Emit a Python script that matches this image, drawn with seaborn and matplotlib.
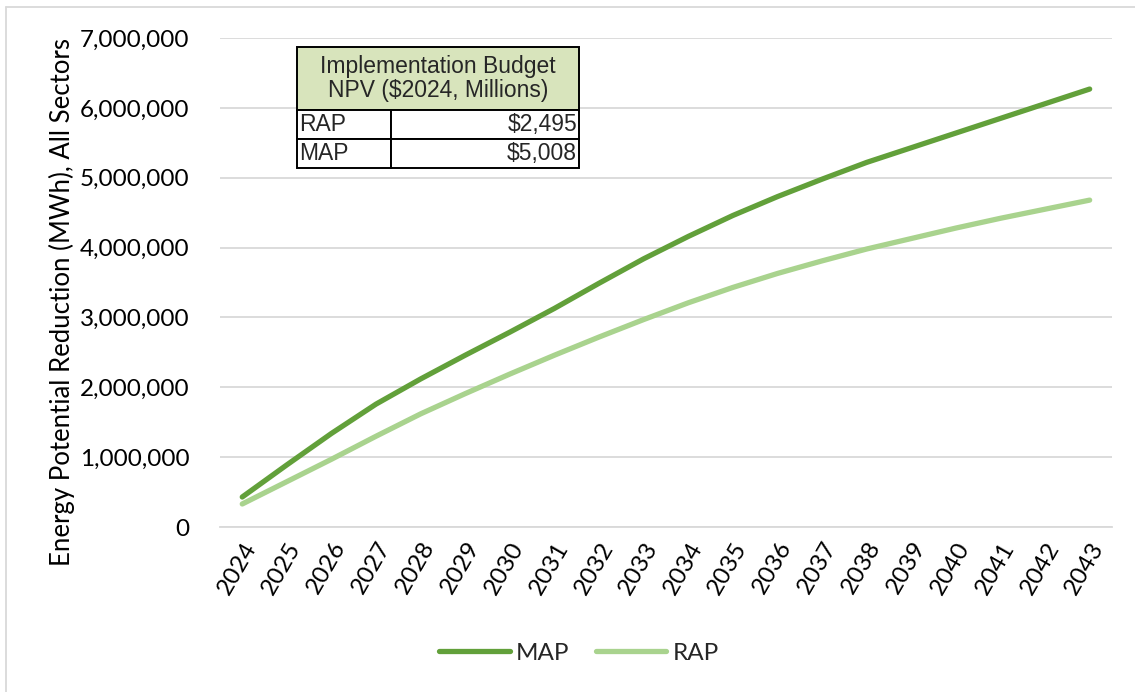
import matplotlib
matplotlib.use("Agg")
import matplotlib.pyplot as plt
from matplotlib.lines import Line2D
from matplotlib.ticker import FuncFormatter, FixedLocator
import numpy as np
import pandas as pd
import seaborn as sns

# Cumulative energy potential reduction (MWh), all sectors
years = [str(y) for y in range(2024, 2044)]
map_mwh = [430000, 890000, 1340000, 1760000, 2120000, 2460000, 2790000, 3130000,
           3490000, 3840000, 4160000, 4460000, 4730000, 4980000, 5220000, 5430000,
           5640000, 5850000, 6060000, 6270000]
rap_mwh = [330000, 650000, 970000, 1300000, 1620000, 1910000, 2190000, 2460000,
           2720000, 2970000, 3210000, 3430000, 3630000, 3810000, 3980000, 4130000,
           4280000, 4420000, 4550000, 4680000]

series_names = ["MAP", "RAP"]
series_colors = {"MAP": "#62a03a", "RAP": "#a9d38e"}

# Implementation budget table
budget_header = "Implementation Budget\nNPV ($2024, Millions)"
budget_labels = ["RAP", "MAP"]
budget_values = ["$2,495", "$5,008"]

df = pd.DataFrame({"Year": years * 2,
                   "Scenario": ["MAP"] * len(years) + ["RAP"] * len(years),
                   "MWh": map_mwh + rap_mwh})
df["x"] = df["Year"].map({y: i for i, y in enumerate(years)})

sns.set_theme(style="white")
plt.rcParams["font.family"] = ["Lato", "DejaVu Sans"]

fig = plt.figure(figsize=(11.35, 6.92), dpi=100)
ax = fig.add_axes([0.1938, 0.2384, 0.7859, 0.7066])

sns.lineplot(data=df, x="x", y="MWh", hue="Scenario", hue_order=series_names,
             palette=series_colors, linewidth=3.8, ax=ax, legend=False,
             solid_capstyle="round")

ax.set_xlim(-0.5, len(years) - 0.5)
ax.set_ylim(0, 7000000)
ax.set_yticks(np.arange(0, 7000001, 1000000))
ax.yaxis.set_major_formatter(FuncFormatter(lambda v, p: f"{int(v):,}"))
ax.grid(axis="y", color="#d9d9d9", linewidth=1.3)
ax.grid(axis="x", visible=False)
ax.set_axisbelow(True)

for s in ["top", "right", "left"]:
    ax.spines[s].set_visible(False)
ax.spines["bottom"].set_color("#d9d9d9")
ax.spines["bottom"].set_linewidth(1.3)

# category labels at centres, tick marks at category boundaries
ax.set_xticks(range(len(years)))
ax.set_xticklabels(years, rotation=60, ha="right", va="top",
                   rotation_mode="anchor", fontsize=17.5, color="#000000")
ax.tick_params(axis="x", length=0, pad=8)
ax.xaxis.set_minor_locator(FixedLocator(np.arange(-0.5, len(years), 1.0)))
ax.tick_params(axis="x", which="minor", length=7, width=1.3, color="#d9d9d9",
               direction="out")
ax.tick_params(axis="y", length=0, labelsize=17.5, pad=22, labelcolor="#000000")

ax.set_xlabel("")
ax.set_ylabel("Energy Potential Reduction (MWh), All Sectors", fontsize=18.5,
              color="#000000")
ax.yaxis.set_label_coords(-0.162, 0.46)

# legend below the plot
handles = [Line2D([0], [0], color=series_colors[n], lw=3.8, solid_capstyle="round")
           for n in series_names]
fig.legend(handles, series_names, loc="center", bbox_to_anchor=(0.510, 0.056),
           ncol=2, frameon=False, fontsize=17.5, handlelength=2.9,
           columnspacing=1.1, handletextpad=0.25)

# budget table drawn inside the axes
tbl_font = ["Liberation Sans", "DejaVu Sans"]
x0, x1 = 0.0863, 0.4025
y_top, y_mid, y_bot = 0.9816, 0.8528, 0.7342
head = ax.table(cellText=[[budget_header]], cellLoc="center",
                bbox=[x0, y_mid, x1 - x0, y_top - y_mid], zorder=5)
head.auto_set_font_size(False)
head[0, 0].set_facecolor("#d8e4bc")
head[0, 0].set_edgecolor("#000000")
head[0, 0].set_linewidth(1.4)
head[0, 0].get_text().set_fontsize(16.5)
head[0, 0].get_text().set_family(tbl_font)
head[0, 0].get_text().set_linespacing(1.05)

body = ax.table(cellText=[[l, v] for l, v in zip(budget_labels, budget_values)],
                colWidths=[0.333, 0.667], bbox=[x0, y_bot, x1 - x0, y_mid - y_bot],
                zorder=5)
body.auto_set_font_size(False)
for (r, c), cell in body.get_celld().items():
    cell.set_facecolor("white")
    cell.set_edgecolor("#000000")
    cell.set_linewidth(1.4)
    t = cell.get_text()
    t.set_fontsize(16.5)
    t.set_family(tbl_font)
    if c == 0:
        t.set_ha("left")
        cell.PAD = 0.02
    else:
        t.set_ha("right")
        cell.PAD = 0.01

# chart frame on the left and top edges
fig.add_artist(Line2D([0.0053, 0.0053], [0, 0.99], transform=fig.transFigure,
                      color="#d9d9d9", lw=1.3))
fig.add_artist(Line2D([0.0053, 1.0], [0.99, 0.99], transform=fig.transFigure,
                      color="#d9d9d9", lw=1.3))

fig.savefig("out.png", dpi=100, facecolor="white")
